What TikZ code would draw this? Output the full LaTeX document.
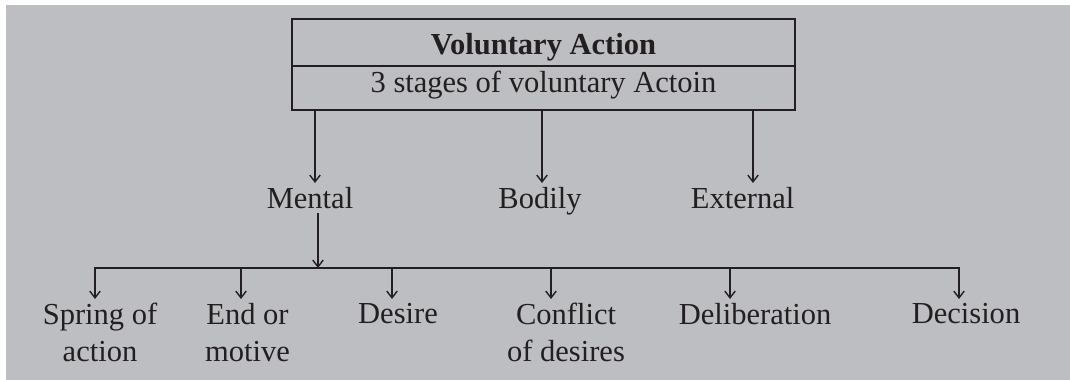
\documentclass[tikz,border=0pt]{standalone}
\usepackage{fontspec}
\setmainfont{Liberation Serif}
\usetikzlibrary{arrows.meta,positioning}
\definecolor{paper}{HTML}{BDBEC2}
\definecolor{ink}{HTML}{231F20}
\newcommand{\chartfont}{\fontsize{21.7pt}{26.1pt}\selectfont}
\tikzset{
  stage/.style={font=\chartfont\color{ink}, align=center, inner xsep=2pt,
                inner ysep=2.85pt, anchor=north},
  head/.style={draw=ink, line width=1.2pt, minimum width=12.575cm, inner sep=0pt,
               font=\chartfont\color{ink}},
  flow/.style={-{Straight Barb[length=4.8pt,width=7.4pt]}, line width=1pt, draw=ink},
  link/.style={line width=1pt, draw=ink, line cap=rect}
}

\begin{document}
\begin{tikzpicture}[x=0.025cm, y=-0.025cm]
    % page and grey panel
    \fill[white] (0,0) rectangle (1070,380);
    \fill[paper] (6,5) rectangle (1070,380);
    \useasboundingbox (0,0) rectangle (1070,380);

    % heading box
    \node[head, minimum height=1.1675cm, text height=0.61cm, text depth=0pt,
          font=\chartfont\bfseries\color{ink}] (title) at (543.5,42.65) {Voluntary Action};
    \node[head, minimum height=1.1cm, text height=0.52cm, text depth=0.27cm]
          (stages) at (543.5,88) {3 stages of voluntary Actoin};

    % the three stages
    \coordinate (tm) at (315,110);
    \coordinate (tb) at (542,110);
    \coordinate (te) at (753,110);
    \node[stage] (mental) at (310,183) {Mental};
    \node[stage] (bodily) at (540,183) {Bodily};
    \node[stage] (external) at (742.6,183) {External};
    \draw[flow] (tm) -- (tm |- mental.north);
    \draw[flow] (tb) -- (tb |- bodily.north);
    \draw[flow] (te) -- (te |- external.north);

    % mental stage split
    \coordinate (hub) at (318,268);
    \draw[flow] (hub |- mental.south) -- (hub);

    \node[stage] (spring) at (100,299) {Spring of\\action};
    \node[stage] (motive) at (247.5,299) {End or\\motive};
    \node[stage] (desire) at (398,299) {Desire};
    \node[stage] (conflict) at (566,299) {Conflict\\of desires};
    \node[stage] (deliber) at (755,299) {Deliberation};
    \node[stage] (decision) at (966,299) {Decision};

    \coordinate (kspring) at (95,268);
    \coordinate (kmotive) at (241,268);
    \coordinate (kdesire) at (392,268);
    \coordinate (kconflict) at (551,268);
    \coordinate (kdeliber) at (730,268);
    \coordinate (kdecision) at (959,268);
    \draw[link] (kspring) -- (kdecision);
    \draw[flow] (kspring) -- (kspring |- spring.north);
    \draw[flow] (kmotive) -- (kmotive |- motive.north);
    \draw[flow] (kdesire) -- (kdesire |- desire.north);
    \draw[flow] (kconflict) -- (kconflict |- conflict.north);
    \draw[flow] (kdeliber) -- (kdeliber |- deliber.north);
    \draw[flow] (kdecision) -- (kdecision |- decision.north);
\end{tikzpicture}
\end{document}
